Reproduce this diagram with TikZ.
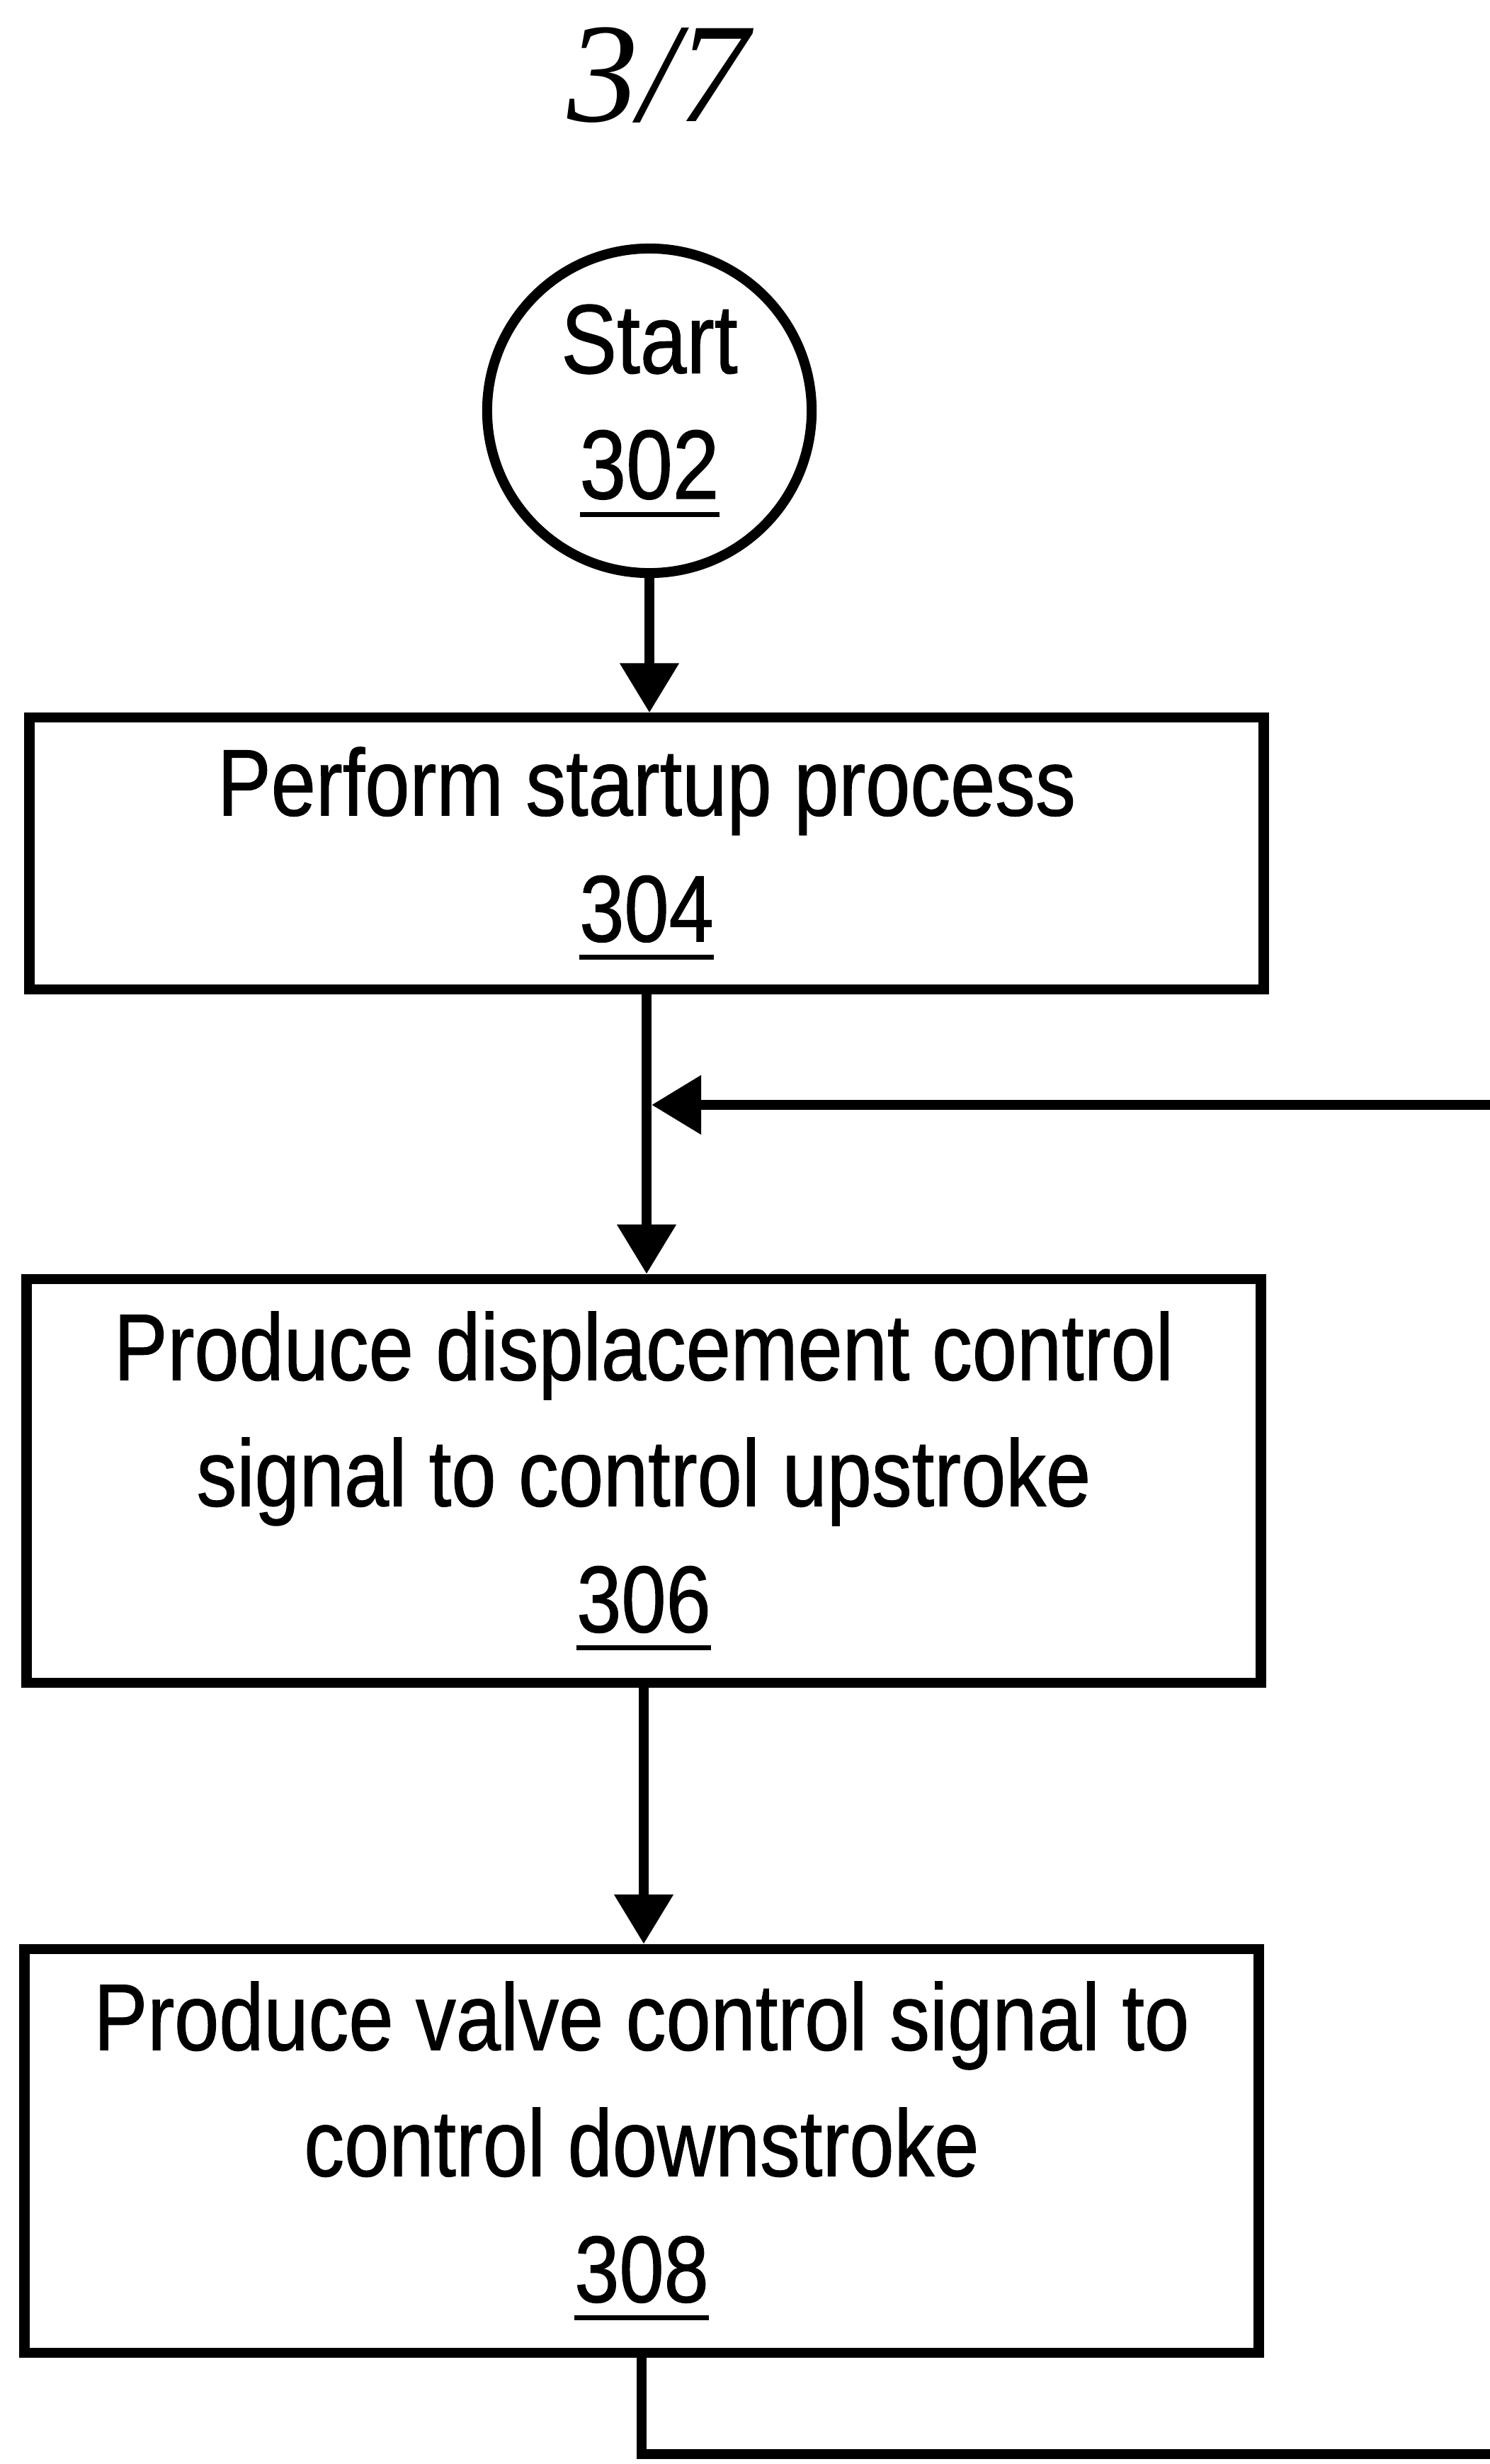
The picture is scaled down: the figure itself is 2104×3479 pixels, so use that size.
\documentclass[tikz,border=0pt]{standalone}
\usepackage{fontspec}
\setmainfont{Liberation Sans}[FakeStretch=0.85,FakeBold=0.8]
\newfontfamily\sheetfont{Liberation Serif}
\usetikzlibrary{arrows.meta}
\newcommand{\refnum}[1]{\vtop{\hbox{#1}\kern5pt\hrule height 2pt}}

\begin{document}
\begin{tikzpicture}[x=0.01cm,y=-0.01cm]
	\tikzset{
		stepbox/.style={draw,rectangle,line width=4pt,inner sep=0pt,minimum width=17.42cm,align=center,font=\fontsize{38}{50.6}\selectfont},
		startnode/.style={draw,circle,line width=4pt,inner sep=0pt,minimum size=4.58cm,align=center,font=\fontsize{39.5}{50.4}\selectfont},
		flow/.style={line width=4.2pt,-{Triangle[length=0.7cm,width=0.8cm]}}
	}
	\useasboundingbox (0,0) rectangle (2104,3479);
	\node[anchor=base,font=\sheetfont\itshape\fontsize{57}{60}\selectfont] (sheet) at (930,172) {3/7};
	\node[startnode] (s302) at (917,580) {Start\\\refnum{302}};
	\node[stepbox,minimum height=3.83cm] (s304) at (913,1205) {Perform startup process\\\refnum{304}};
	\node[stepbox,minimum height=5.70cm] (s306) at (909,2091) {Produce displacement control\\signal to control upstroke\\\refnum{306}};
	\node[stepbox,minimum height=5.70cm] (s308) at (906,3037) {Produce valve control signal to\\control downstroke\\\refnum{308}};
	\coordinate (loopin) at (2104,1560);
	\coordinate (loopout) at (2104,3465);
	\path[flow]
		(s302) edge (s302 |- s304.north)
		(s304.south) edge (s304.south |- s306.north)
		(s306.south) edge (s306.south |- s308.north);
	\draw[flow,shorten >=2pt] (loopin) -- (s304.south |- loopin);
	\draw[line width=4.2pt] (s308.south) |- (loopout);
\end{tikzpicture}
\end{document}
